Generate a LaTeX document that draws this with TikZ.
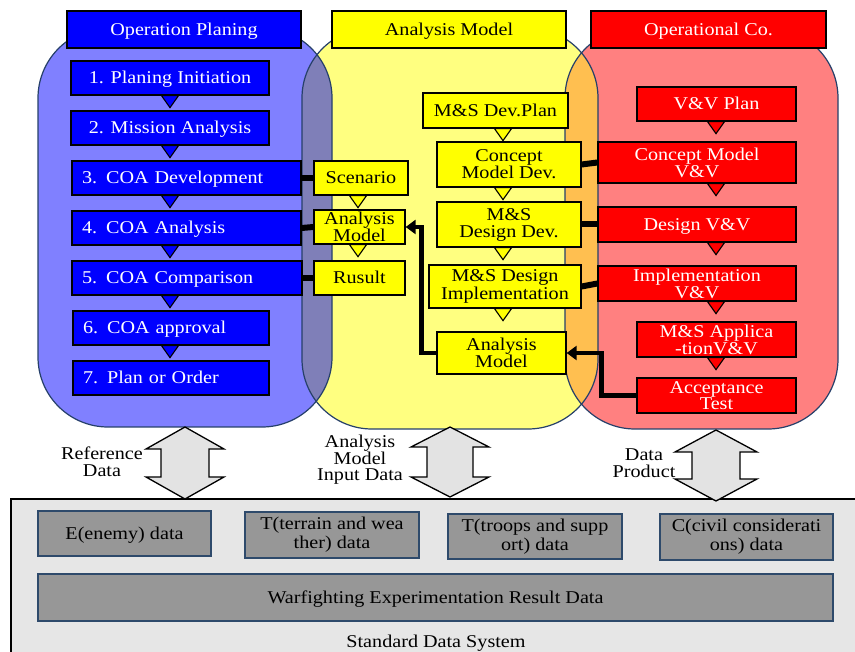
\documentclass[tikz,border=0pt]{standalone}
\usepackage{fontspec}
\setmainfont{Liberation Serif}[FakeStretch=1.12]
\usetikzlibrary{arrows.meta}
\definecolor{boxblue}{HTML}{0000FF}
\definecolor{regblue}{HTML}{8080FF}
\definecolor{boxyel}{HTML}{FFFF00}
\definecolor{regyel}{HTML}{FFFF80}
\definecolor{boxred}{HTML}{FF0000}
\definecolor{regred}{HTML}{FF8080}
\definecolor{ovBY}{HTML}{7F7FB8}
\definecolor{ovYR}{HTML}{FFBF50}
\definecolor{grayfill}{HTML}{979797}
\definecolor{graybord}{HTML}{2E4A6B}
\definecolor{panelfill}{HTML}{E6E6E6}
\definecolor{arrowfill}{HTML}{E3E3E3}
\definecolor{regline}{HTML}{26406A}
\newcommand{\fs}{\fontsize{18}{15.5}\selectfont}
\newcommand{\downtri}[2]{\filldraw[fill=#2,draw=black,line width=1.1pt] #1 ++(-8.5,0) -- ++(17,0) -- ++(-8.5,12) -- cycle;}
\newcommand{\dblarrow}[6]{% cx, ytop, ybot, headhalf, shafthalf, headlen
  \filldraw[fill=arrowfill,draw=black,line width=1.3pt]
    (#1,#2) -- (#1+#4,#2+#6) -- (#1+#5,#2+#6) -- (#1+#5,#3-#6) -- (#1+#4,#3-#6) -- (#1,#3)
    -- (#1-#4,#3-#6) -- (#1-#5,#3-#6) -- (#1-#5,#2+#6) -- (#1-#4,#2+#6) -- cycle;}
\begin{document}
\begin{tikzpicture}[x=1pt,y=-1pt,
  box/.style={draw=black, line width=1.3pt, inner sep=0pt, align=center, font=\fs},
  one/.style={text height=12pt, text depth=0pt},
  sz/.style 2 args={minimum width=#1, minimum height=#2},
  bl/.style={box, fill=boxblue, text=white},
  yb/.style={box, fill=boxyel, text=black},
  rb/.style={box, fill=boxred, text=white},
  gb/.style={box, fill=grayfill, draw=graybord, line width=1.6pt, font=\fontsize{18}{19}\selectfont},
  lbl/.style={align=center, inner sep=0pt, font=\fontsize{18}{16.5}\selectfont},
  conn/.style={line width=6pt},
  arr/.style={line width=4.5pt, -{Triangle[length=10pt,width=14pt]}},
  reg/.style={rounded corners=70pt}]
\useasboundingbox (0,0) rectangle (855,652);
\def\pathB{(38,28) rectangle (332,427)}
\def\pathY{(302,28) rectangle (598,429)}
\def\pathR{(565,28) rectangle (838,429)}
% regions
\fill[regblue,reg] \pathB;
\fill[regyel,reg] \pathY;
\fill[regred,reg] \pathR;
\begin{scope}\clip[reg] \pathB; \fill[ovBY,reg] \pathY; \end{scope}
\begin{scope}\clip[reg] \pathR; \fill[ovYR,reg] \pathY; \end{scope}
\draw[regline,line width=1.2pt,reg] \pathB;
\draw[regline,line width=1.2pt,reg] \pathY;
\draw[regline,line width=1.2pt,reg] \pathR;
% headers
\node[bl,one,sz={234}{37}] (hdrB) at (184,29.5) {Operation Planing};
\node[yb,one,sz={234}{37}] (hdrY) at (449,29.5) {Analysis Model};
\node[rb,one,sz={235}{37}] (hdrR) at (708.5,29.5) {Operational Co.};
% left column
\node[bl,one,sz={198}{34}] (b1) at (170,78) {1. Planing Initiation};
\node[bl,one,sz={198}{34}] (b2) at (170,128) {2. Mission Analysis};
\node[bl,one,minimum height=34,text width=209,inner xsep=10pt,align=left] (b3) at (186.5,178) {3. COA Development};
\node[bl,one,minimum height=34,text width=209,inner xsep=10pt,align=left] (b4) at (186.5,228) {4. COA Analysis};
\node[bl,one,minimum height=34,text width=210,inner xsep=10pt,align=left] (b5) at (187,278) {5. COA Comparison};
\node[bl,one,minimum height=34,text width=176,inner xsep=10pt,align=left] (b6) at (171,328) {6. COA approval};
\node[bl,one,minimum height=34,text width=176,inner xsep=10pt,align=left] (b7) at (171,378) {7. Plan or Order};
% middle small
\node[yb,one,sz={94}{34}] (scen) at (361,178) {Scenario};
\node[yb,sz={91}{34}] (amS) at (359.5,227) {Analysis\\Model};
\node[yb,one,sz={91}{34}] (rus) at (359.5,278) {Rusult};
% yellow right column
\node[yb,one,sz={145}{35}] (y1) at (495.5,110.5) {M\&S Dev.Plan};
\node[yb,sz={144}{45}] (y2) at (509,164.5) {Concept\\Model Dev.};
\node[yb,sz={144}{45},font=\fontsize{18}{17}\selectfont] (y3) at (509,224.5) {M\&S\\Design Dev.};
\node[yb,sz={152}{43}] (y4) at (505,286.5) {M\&S Design\\Implementation};
\node[yb,sz={129}{42}] (y5) at (501.5,353) {Analysis\\Model};
% red column
\node[rb,one,sz={159}{34}] (r1) at (716.5,104) {V\&V Plan};
\node[rb,sz={198}{41}] (r2) at (697,162.5) {Concept Model\\V\&V};
\node[rb,one,sz={198}{35}] (r3) at (697,224.5) {Design V\&V};
\node[rb,sz={198}{35}] (r4) at (697,283.5) {Implementation\\V\&V};
\node[rb,sz={159}{35}] (r5) at (716.5,339.5) {M\&S Applica\\-tionV\&V};
\node[rb,sz={159}{35}] (r6) at (716.5,395.5) {Acceptance\\Test};
% triangles
\downtri{(170,0 |- b1.south)}{boxblue}
\downtri{(170,0 |- b2.south)}{boxblue}
\downtri{(170,0 |- b3.south)}{boxblue}
\downtri{(170,0 |- b4.south)}{boxblue}
\downtri{(170,0 |- b5.south)}{boxblue}
\downtri{(170,0 |- b6.south)}{boxblue}
\downtri{(358,0 |- scen.south)}{boxyel}
\downtri{(358,0 |- amS.south)}{boxyel}
\downtri{(503,0 |- y1.south)}{boxyel}
\downtri{(503,0 |- y2.south)}{boxyel}
\downtri{(503,0 |- y3.south)}{boxyel}
\downtri{(503,0 |- y4.south)}{boxyel}
\downtri{(716,0 |- r1.south)}{boxred}
\downtri{(716,0 |- r2.south)}{boxred}
\downtri{(716,0 |- r3.south)}{boxred}
\downtri{(716,0 |- r4.south)}{boxred}
\downtri{(716,0 |- r5.south)}{boxred}
% connectors
\draw[conn] (b3.east) -- (scen.west);
\draw[conn] (b4.east) -- (amS.west);
\draw[conn] (b5.east) -- (rus.west);
\draw[conn] (y2.east) -- (r2.west);
\draw[conn] (y3.east) -- (r3.west);
\draw[conn] (y4.east) -- (r4.west);
\draw[arr] (y5.west) -- ++(-15,0) |- (amS.east);
\draw[arr] (r6.west) -- ++(-35,0) |- (y5.east);
% bottom panel
\filldraw[fill=panelfill,draw=black,line width=1.2pt] (11,499) rectangle (880,680);
\node[lbl,one] (sds) at (436,641) {Standard Data System};
\node[gb,one,sz={173}{45}] (g1) at (124.5,533.5) {E(enemy) data};
\node[gb,sz={174}{46}] (g2) at (332,535) {T(terrain and wea\\ther) data};
\node[gb,sz={174}{45}] (g3) at (535,536.5) {T(troops and supp\\ort) data};
\node[gb,sz={173}{46}] (g4) at (746.5,537) {C(civil considerati\\ons) data};
\node[gb,one,sz={795}{47}] (g5) at (435.5,597.5) {Warfighting Experimentation Result Data};
% double arrows
\dblarrow{185}{427}{499}{39}{24}{22}
\dblarrow{450}{427}{497}{39}{23}{20}
\dblarrow{716}{430}{501}{41}{24}{22}
\node[lbl] (lref) at (102,462) {Reference\\Data};
\node[lbl] (lam) at (360,460) {Analysis\\Model\\Input Data};
\node[lbl] (ldp) at (644,463) {Data\\Product};
\end{tikzpicture}
\end{document}
